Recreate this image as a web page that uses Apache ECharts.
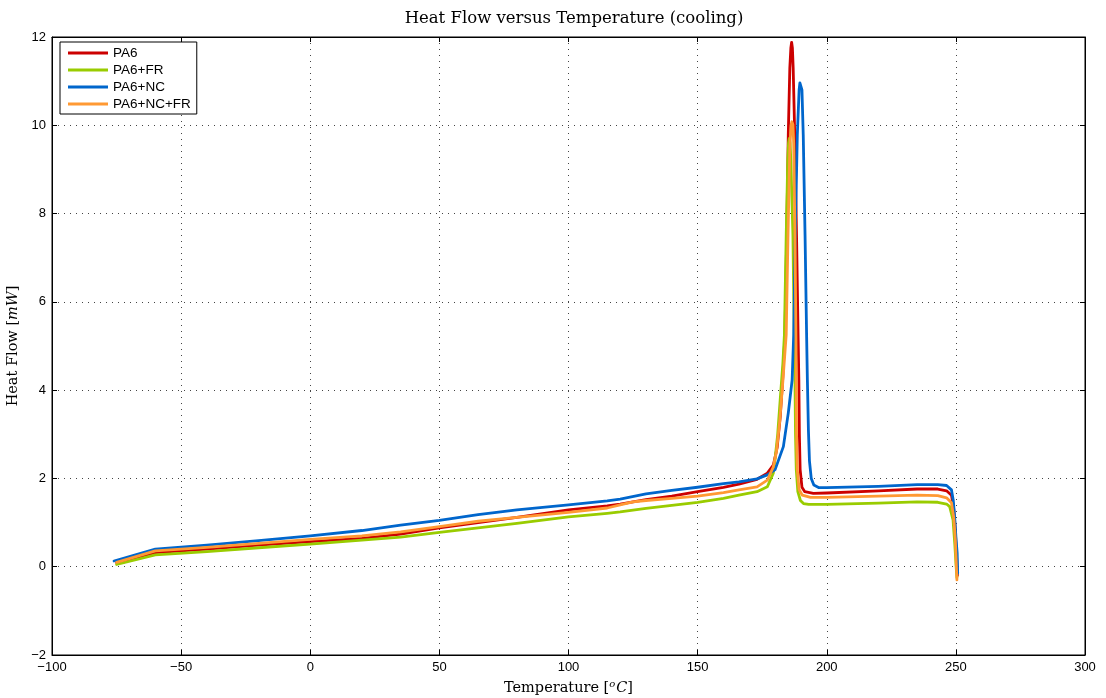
<!DOCTYPE html>
<html>
<head>
<meta charset="utf-8">
<script src="https://cdn.jsdelivr.net/npm/echarts@6/dist/echarts.min.js"></script>
<style>html,body{margin:0;padding:0;background:#fff}#c{width:1106px;height:698px}</style>
</head>
<body>
<div id="c"></div>
<script>
// ---- data ----
const seriesNames = ['PA6', 'PA6+FR', 'PA6+NC', 'PA6+NC+FR'];
const xTicks = [-100, -50, 0, 50, 100, 150, 200, 250, 300];
const yTicks = [-2, 0, 2, 4, 6, 8, 10, 12];

const pa6_T = [-75, -60, -40, -20, 0, 20, 35, 50, 65, 80, 100, 115, 120, 125, 130, 140, 150, 160, 166, 173, 177, 179.3, 180.8, 182, 183, 183.8, 184.5, 185.1, 185.7, 186.1, 186.4, 186.7, 187, 187.6, 188.3, 188.9, 189.2, 189.4, 189.7, 190.4, 191.5, 194.8, 200, 220, 235, 243, 246.4, 248.3, 249.2, 249.8, 250.3, 250.6];
const pa6_H = [0.09, 0.32, 0.40, 0.49, 0.57, 0.64, 0.74, 0.88, 1.00, 1.12, 1.29, 1.38, 1.42, 1.47, 1.52, 1.60, 1.70, 1.80, 1.87, 1.98, 2.12, 2.30, 2.70, 3.40, 4.30, 5.25, 7.51, 9.78, 11.30, 11.75, 11.88, 11.75, 11.30, 9.78, 7.51, 5.25, 4.23, 3.00, 2.20, 1.80, 1.70, 1.66, 1.67, 1.72, 1.76, 1.76, 1.72, 1.62, 1.30, 0.80, 0.20, -0.20];

const fr_T = [-75, -60, -40, -20, 0, 20, 35, 50, 65, 80, 100, 115, 120, 130, 140, 150, 160, 166, 173, 177, 179.3, 180, 181, 182, 183, 183.6, 184.3, 184.9, 185.2, 185.5, 185.8, 186.1, 186.9, 187.4, 187.7, 187.9, 188.2, 188.8, 189.8, 191, 193, 200, 220, 235, 243, 246.4, 247.6, 248.9, 249.6, 250.1, 250.4];
const fr_H = [0.05, 0.27, 0.34, 0.43, 0.51, 0.60, 0.67, 0.78, 0.88, 0.98, 1.13, 1.21, 1.24, 1.32, 1.39, 1.46, 1.55, 1.62, 1.70, 1.81, 2.12, 2.45, 3.00, 3.80, 4.60, 5.25, 7.51, 9.20, 9.60, 9.70, 9.60, 9.20, 7.51, 5.25, 4.23, 3.00, 2.20, 1.70, 1.50, 1.43, 1.41, 1.41, 1.44, 1.47, 1.46, 1.42, 1.36, 1.06, 0.50, 0.00, -0.25];

const nc_T = [-76, -60, -40, -20, 0, 20, 35, 50, 65, 80, 100, 115, 120, 130, 140, 150, 160, 166, 173, 177, 180, 183.2, 185.1, 186.6, 187.2, 187.8, 188.6, 189.3, 189.6, 189.9, 190.2, 190.4, 190.9, 191.6, 192.2, 192.5, 192.9, 193.3, 194, 195, 197, 200, 220, 235, 243, 246.4, 248.3, 249, 249.6, 250.1, 250.5, 250.7];
const nc_H = [0.13, 0.40, 0.49, 0.59, 0.70, 0.82, 0.94, 1.05, 1.18, 1.29, 1.40, 1.49, 1.53, 1.65, 1.73, 1.80, 1.88, 1.92, 1.99, 2.08, 2.20, 2.72, 3.48, 4.23, 5.25, 7.51, 9.78, 10.80, 10.96, 11.00, 10.94, 10.80, 9.78, 7.51, 5.25, 4.23, 3.10, 2.40, 2.00, 1.85, 1.79, 1.79, 1.82, 1.86, 1.86, 1.84, 1.74, 1.50, 1.06, 0.60, 0.31, -0.15];

const ncfr_T = [-75, -60, -40, -20, 0, 20, 35, 50, 65, 80, 100, 115, 120, 125, 130, 140, 150, 160, 166, 173, 177, 179.3, 180.5, 181.8, 183, 184.3, 185, 185.7, 186.2, 186.5, 186.7, 186.9, 187.2, 187.7, 188.1, 188.2, 188.3, 188.6, 189.3, 190.5, 193.7, 200, 220, 235, 243, 246.4, 248.3, 249.2, 249.8, 250.2, 250.4];
const ncfr_H = [0.10, 0.36, 0.44, 0.53, 0.62, 0.70, 0.79, 0.91, 1.03, 1.12, 1.23, 1.33, 1.40, 1.47, 1.50, 1.55, 1.60, 1.68, 1.74, 1.81, 1.96, 2.26, 2.60, 3.30, 4.20, 5.25, 7.51, 9.50, 10.00, 10.08, 10.10, 10.02, 9.60, 7.51, 5.00, 4.23, 3.00, 2.20, 1.75, 1.62, 1.57, 1.57, 1.60, 1.62, 1.61, 1.56, 1.45, 1.10, 0.60, 0.00, -0.30];

const colors = ['#CC0000', '#99CC00', '#0066CC', '#FF9933'];

// ---- build ----
function pairs(T, H) { return T.map((t, i) => [t, H[i]]); }
const allData = [pairs(pa6_T, pa6_H), pairs(fr_T, fr_H), pairs(nc_T, nc_H), pairs(ncfr_T, ncfr_H)];

const xMin = xTicks[0], xMax = xTicks[xTicks.length - 1], xInt = xTicks[1] - xTicks[0];
const yMin = yTicks[0], yMax = yTicks[yTicks.length - 1], yInt = yTicks[1] - yTicks[0];

const tickFont = { fontFamily: 'Liberation Sans, Arial, sans-serif', fontSize: 13, color: '#000' };
const serif = 'DejaVu Serif, serif';
const fmt = v => (v < 0 ? '\u2212' + Math.abs(v) : String(v));
const lineAx = { show: true, onZero: false, lineStyle: { color: '#000', width: 1 } };
const tickAx = { show: true, inside: true, length: 5, lineStyle: { color: '#000' } };
const gridLine = { show: true, lineStyle: { type: [1, 5], color: '#444', width: 1 } };

const chart = echarts.init(document.getElementById('c'), null, { renderer: 'canvas' });
chart.setOption({
  animation: false,
  backgroundColor: '#fff',
  title: {
    text: 'Heat Flow versus Temperature (cooling)',
    left: 569, top: 5, textAlign: 'center',
    textStyle: { fontFamily: serif, fontSize: 16.5, fontWeight: 'normal', color: '#000' }
  },
  legend: {
    data: seriesNames,
    orient: 'vertical',
    left: 60, top: 42,
    backgroundColor: '#fff',
    borderColor: '#000', borderWidth: 1, borderRadius: 0,
    padding: [4, 6, 3, 8],
    itemGap: 3,
    itemWidth: 40, itemHeight: 3,
    icon: 'rect',
    textStyle: { fontFamily: 'Liberation Sans, Arial, sans-serif', fontSize: 13.5, lineHeight: 14, color: '#000' }
  },
  grid: { left: 52, right: 21, top: 37, bottom: 43, containLabel: false, outerBoundsMode: 'none', show: true, borderColor: '#000', borderWidth: 1, backgroundColor: 'transparent' },
  xAxis: [{
    type: 'value', min: xMin, max: xMax, interval: xInt,
    position: 'bottom',
    axisLine: lineAx, axisTick: tickAx,
    axisLabel: Object.assign({ formatter: fmt, margin: 6 }, tickFont),
    splitLine: gridLine,
    name: '{r|Temperature [}{sup|o}{it|C}{r|]}',
    nameLocation: 'middle', nameGap: 24,
    nameTextStyle: {
      rich: {
        r: { fontFamily: serif, fontSize: 14.5, color: '#000' },
        it: { fontFamily: serif, fontSize: 14.5, fontStyle: 'italic', color: '#000' },
        sup: { fontFamily: serif, fontSize: 10, fontStyle: 'italic', color: '#000', padding: [0, 1, 8, 0] }
      }
    }
  }, {
    type: 'value', min: xMin, max: xMax, interval: xInt,
    position: 'top',
    axisLine: lineAx, axisTick: tickAx,
    axisLabel: { show: false },
    splitLine: { show: false }
  }],
  yAxis: [{
    type: 'value', min: yMin, max: yMax, interval: yInt,
    position: 'left',
    axisLine: lineAx, axisTick: tickAx,
    axisLabel: Object.assign({ formatter: fmt, margin: 6 }, tickFont),
    splitLine: gridLine,
    name: '{r|Heat Flow [}{it|mW}{r|]}',
    nameLocation: 'middle', nameGap: 26, nameRotate: 90,
    nameTextStyle: {
      rich: {
        r: { fontFamily: serif, fontSize: 14.5, color: '#000' },
        it: { fontFamily: serif, fontSize: 14.5, fontStyle: 'italic', color: '#000' }
      }
    }
  }, {
    type: 'value', min: yMin, max: yMax, interval: yInt,
    position: 'right',
    axisLine: lineAx, axisTick: tickAx,
    axisLabel: { show: false },
    splitLine: { show: false }
  }],
  series: seriesNames.map((n, i) => ({
    name: n,
    type: 'line',
    xAxisIndex: 0, yAxisIndex: 0,
    data: allData[i],
    showSymbol: false,
    symbol: 'none',
    smooth: false,
    clip: true,
    color: colors[i],
    lineStyle: { color: colors[i], width: 2.8, join: 'round', cap: 'round' },
    emphasis: { disabled: true }
  }))
});
</script>
</body>
</html>
